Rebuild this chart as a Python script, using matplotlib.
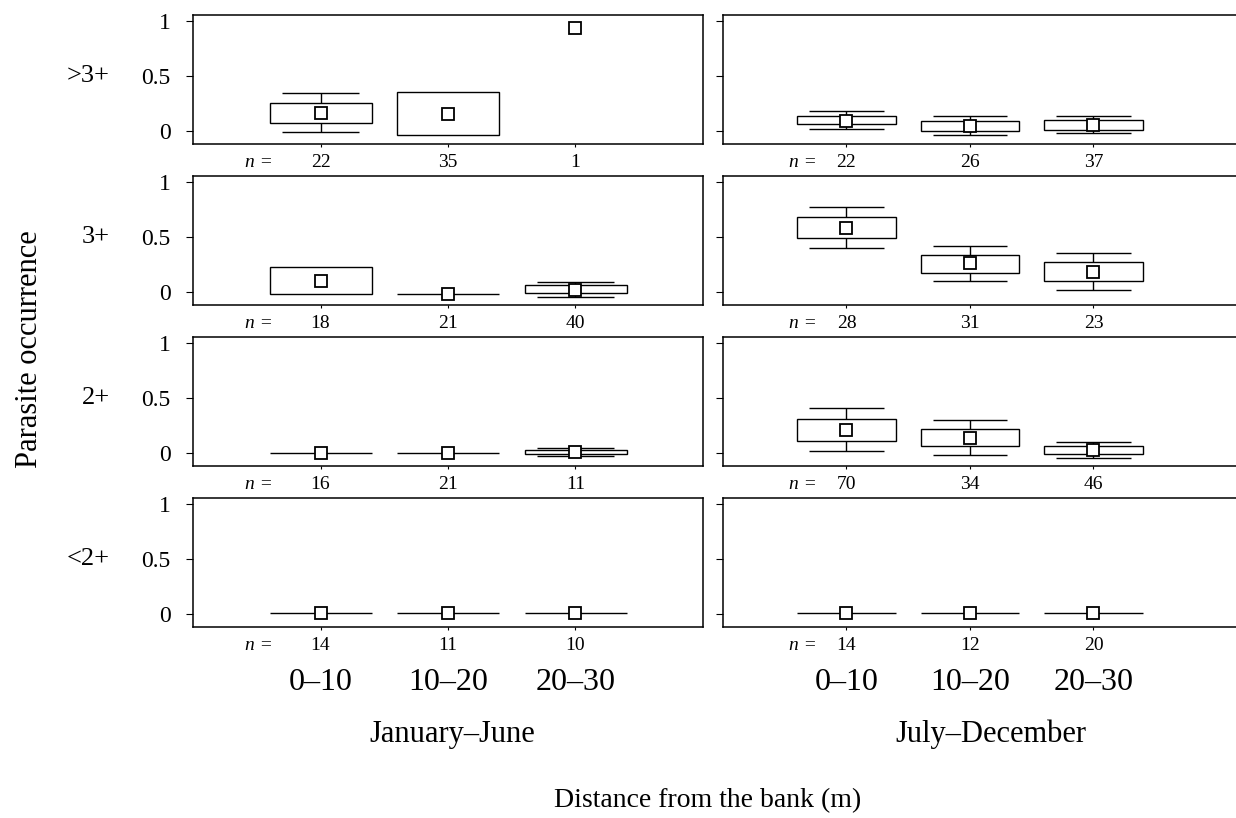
import numpy as np
import matplotlib
matplotlib.use("Agg")
import matplotlib.pyplot as plt
from matplotlib.patches import Rectangle

plt.rcParams['font.family'] = ['Liberation Serif', 'DejaVu Serif']

nan = np.nan

# ---------------- data ----------------
categories = ["0–10", "10–20", "20–30"]
rows = [">3+", "3+", "2+", "<2+"]
seasons = ["January–June", "July–December"]
yticks = [0, 0.5, 1]
ytick_labels = ["0", "0.5", "1"]

# January–June
jj_mean = [[0.164, 0.155, 0.936], [0.100, -0.020, 0.018], [0.000, -0.005, 0.006], [0.010, 0.010, 0.010]]
jj_box_lo = [[0.073, -0.036, nan], [-0.021, -0.020, -0.012], [0.000, -0.005, -0.013], [0.010, 0.010, 0.010]]
jj_box_hi = [[0.255, 0.355, nan], [0.229, -0.020, 0.061], [0.000, -0.005, 0.022], [0.010, 0.010, 0.010]]
jj_wh_lo = [[-0.010, nan, nan], [nan, nan, -0.046], [nan, nan, -0.030], [nan, nan, nan]]
jj_wh_hi = [[0.340, nan, nan], [nan, nan, 0.091], [nan, nan, 0.040], [nan, nan, nan]]
jj_n = [[22, 35, 1], [18, 21, 40], [16, 21, 11], [14, 11, 10]]

# July–December
jd_mean = [[0.094, 0.042, 0.055], [0.583, 0.259, 0.180], [0.209, 0.138, 0.025], [0.010, 0.010, 0.010]]
jd_box_lo = [[0.058, 0.000, 0.012], [0.488, 0.173, 0.096], [0.107, 0.058, -0.012], [0.010, 0.010, 0.010]]
jd_box_hi = [[0.139, 0.088, 0.097], [0.682, 0.337, 0.272], [0.310, 0.221, 0.061], [0.010, 0.010, 0.010]]
jd_wh_lo = [[0.021, -0.042, -0.024], [0.395, 0.102, 0.016], [0.018, -0.021, -0.043], [nan, nan, nan]]
jd_wh_hi = [[0.179, 0.139, 0.139], [0.775, 0.420, 0.355], [0.408, 0.298, 0.095], [nan, nan, nan]]
jd_n = [[22, 26, 37], [28, 31, 23], [70, 34, 46], [14, 12, 20]]

season_data = [
    (jj_mean, jj_box_lo, jj_box_hi, jj_wh_lo, jj_wh_hi, jj_n),
    (jd_mean, jd_box_lo, jd_box_hi, jd_wh_lo, jd_wh_hi, jd_n),
]

# ---------------- layout ----------------
W, H = 1236, 818
fig = plt.figure(figsize=(W / 100, H / 100), dpi=100)
PT = 72 / 100  # points per pixel

col_x = [(193, 703, 4.0), (723, 1245, (1245 - 723) / 123.5)]
row_top = [15, 176, 337, 498]
row_h = 129
box_w = 0.8
cap_w = 0.6
npos_x = [0.52, 0.65]

for c, (x0, x1, xmax) in enumerate(col_x):
    mean, blo, bhi, wlo, whi, nn = season_data[c]
    for r, top in enumerate(row_top):
        ax = fig.add_axes([x0 / W, 1 - (top + row_h) / H, (x1 - x0) / W, row_h / H])
        ax.set_xlim(0, xmax)
        ax.set_ylim(-0.12, 1.055)
        for sp in ax.spines.values():
            sp.set_linewidth(1.1)
        xs = np.arange(1, len(categories) + 1)
        for i, x in enumerate(xs):
            lo, hi = blo[r][i], bhi[r][i]
            if not np.isnan(lo):
                ax.add_patch(Rectangle((x - box_w / 2, lo), box_w, hi - lo,
                                       facecolor='white', edgecolor='black',
                                       linewidth=1.0, zorder=2))
            if not np.isnan(whi[r][i]):
                ax.vlines(x, hi, whi[r][i], color='black', lw=1.0, zorder=2)
                ax.hlines(whi[r][i], x - cap_w / 2, x + cap_w / 2, color='black', lw=1.0, zorder=2)
            if not np.isnan(wlo[r][i]):
                ax.vlines(x, wlo[r][i], lo, color='black', lw=1.0, zorder=2)
                ax.hlines(wlo[r][i], x - cap_w / 2, x + cap_w / 2, color='black', lw=1.0, zorder=2)
        ax.plot(xs, mean[r], linestyle='none', marker='s', markersize=8.5,
                markerfacecolor='white', markeredgecolor='black',
                markeredgewidth=1.3, zorder=4)

        ax.set_xticks(xs)
        ax.set_xticklabels([])
        ax.tick_params(axis='x', direction='out', length=2, width=0.8)
        ax.set_yticks(yticks)
        if c == 0:
            ax.set_yticklabels(ytick_labels)
        else:
            ax.set_yticklabels([])
        ax.tick_params(axis='y', direction='out', length=5, width=0.8,
                       pad=11, labelsize=17)

        # n labels
        ax.annotate("n =", xy=(npos_x[c], 0), xycoords=('data', 'axes fraction'),
                    xytext=(0, -23 * PT), textcoords='offset points',
                    ha='center', va='baseline', fontsize=14, style='italic')
        for i, x in enumerate(xs):
            ax.annotate(str(nn[r][i]), xy=(x, 0), xycoords=('data', 'axes fraction'),
                        xytext=(0, -23 * PT), textcoords='offset points',
                        ha='center', va='baseline', fontsize=14)

        if c == 0:
            ax.annotate(rows[r], xy=(0, 0.5), xycoords=('axes fraction', 'data'),
                        xytext=(-(193 - 110) * PT, 0), textcoords='offset points',
                        ha='right', va='center', fontsize=19)

        if r == len(row_top) - 1:
            for i, x in enumerate(xs):
                ax.annotate(categories[i], xy=(x, 0), xycoords=('data', 'axes fraction'),
                            xytext=(0, -(690 - 627) * PT), textcoords='offset points',
                            ha='center', va='baseline', fontsize=23)

fig.text(452 / W, 1 - 742 / H, seasons[0], ha='center', va='baseline', fontsize=22)
fig.text(991 / W, 1 - 742 / H, seasons[1], ha='center', va='baseline', fontsize=22)
fig.text(708 / W, 1 - 807 / H, "Distance from the bank (m)", ha='center', va='baseline', fontsize=20)
fig.text(30 / W, 1 - 349 / H, "Parasite occurrence", ha='center', va='center',
         rotation=90, fontsize=22)

fig.savefig("out.png", dpi=100)
